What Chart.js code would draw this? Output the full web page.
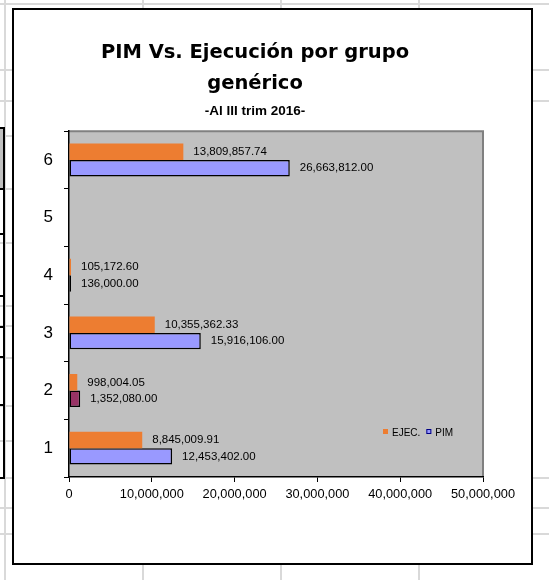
<!DOCTYPE html>
<html>
<head>
  <meta charset="utf-8">
  <title>PIM Vs. Ejecución por grupo genérico</title>
  <script src="https://cdn.jsdelivr.net/npm/chart.js"></script>
  <style>
    body { margin: 0; width: 549px; height: 580px; position: relative; overflow: hidden; background: #fff; }
    .hl { position: absolute; height: 2px; background: #d9d9d9; }
    .vl { position: absolute; top: 0; width: 2px; height: 580px; background: #d9d9d9; }
    .cell { position: absolute; left: 0; width: 5px; border-top: 2px solid #000; border-right: 2px solid #000; box-sizing: border-box; }
    #frame { position: absolute; left: 12px; top: 8px; width: 521px; height: 557px; border: 2px solid #000; box-sizing: border-box; background: #fff; }
    #pimChart { position: absolute; left: 0; top: 0; }
  </style>
</head>
<body>
  <div id="sheet"></div>
  <div id="frame"></div>
  <canvas id="pimChart" width="549" height="580"></canvas>

  <script>
    // datos del gráfico
    const categories = ['1', '2', '3', '4', '5', '6'];
    const ejecValues = [8845009.91, 998004.05, 10355362.33, 105172.60, null, 13809857.74];
    const pimValues = [12453402.00, 1352080.00, 15916106.00, 136000.00, null, 26663812.00];
    const seriesNames = ['EJEC.', 'PIM'];
    const xTicks = [0, 10000000, 20000000, 30000000, 40000000, 50000000];
    const titleLines = ['PIM Vs. Ejecución por grupo', 'genérico'];
    const subtitleText = '-Al III trim 2016-';

    // fondo de hoja de cálculo (solo decoración)
    const sheet = document.getElementById('sheet');
    [3, 69, 100, 477, 507, 533].forEach(y => {
      const d = document.createElement('div');
      d.className = 'hl'; d.style.top = y + 'px'; d.style.left = '0px'; d.style.width = '549px';
      sheet.appendChild(d);
    });
    [135, 188, 242, 305, 325, 357, 405, 440].forEach(y => {
      const d = document.createElement('div');
      d.className = 'hl'; d.style.top = y + 'px'; d.style.left = '0px'; d.style.width = '14px';
      sheet.appendChild(d);
    });
    [4, 142, 280, 418].forEach(x => {
      const d = document.createElement('div');
      d.className = 'vl'; d.style.left = x + 'px';
      sheet.appendChild(d);
    });
    const cellRows = [127, 188, 233, 295, 326, 356, 404, 477];
    for (let i = 0; i < cellRows.length - 1; i++) {
      const d = document.createElement('div');
      d.className = 'cell';
      d.style.top = cellRows[i] + 'px';
      d.style.height = (cellRows[i + 1] - cellRows[i] + 2) + 'px';
      if (i === 0) d.style.background = '#c0c0c0';
      if (i === cellRows.length - 2) d.style.borderBottom = '2px solid #000';
      sheet.appendChild(d);
    }

    const fmt2 = v => v.toLocaleString('en-US', { minimumFractionDigits: 2, maximumFractionDigits: 2 });
    const arial = '"Liberation Sans", Arial, sans-serif';

    Chart.defaults.font.family = arial;
    Chart.defaults.color = '#000';

    // área de trazado gris con borde
    const plotArea = {
      id: 'plotArea',
      beforeDraw(chart) {
        const { ctx, chartArea: a } = chart;
        ctx.save();
        ctx.fillStyle = '#c0c0c0';
        ctx.fillRect(a.left, a.top, a.right - a.left, a.bottom - a.top);
        ctx.strokeStyle = '#808080';
        ctx.lineWidth = 2;
        ctx.beginPath();
        ctx.moveTo(a.left, a.top);
        ctx.lineTo(a.right, a.top);
        ctx.lineTo(a.right, a.bottom);
        ctx.stroke();
        ctx.restore();
      }
    };

    // etiquetas de valor al final de cada barra
    const valueLabels = {
      id: 'valueLabels',
      afterDatasetsDraw(chart) {
        const ctx = chart.ctx;
        ctx.save();
        ctx.font = '11.5px ' + arial;
        ctx.fillStyle = '#000';
        ctx.textAlign = 'left';
        ctx.textBaseline = 'middle';
        chart.data.datasets.forEach((ds, i) => {
          chart.getDatasetMeta(i).data.forEach((bar, j) => {
            const v = ds.data[j];
            if (v == null) return;
            ctx.fillText(fmt2(v), bar.x + 10, bar.y);
          });
        });
        ctx.restore();
      }
    };

    // leyenda dentro del área de trazado
    const innerLegend = {
      id: 'innerLegend',
      afterDraw(chart) {
        const { ctx, chartArea: a } = chart;
        let x = a.right - 100;
        const y = a.bottom - 45;
        ctx.save();
        ctx.font = '10px ' + arial;
        ctx.textBaseline = 'middle';
        ctx.textAlign = 'left';
        chart.data.datasets.forEach(ds => {
          const bg = Array.isArray(ds.backgroundColor) ? ds.backgroundColor[0] : ds.backgroundColor;
          ctx.fillStyle = bg;
          ctx.fillRect(x, y - 3, 5, 5);
          if (ds.borderWidth) {
            ctx.strokeStyle = '#000080';
            ctx.lineWidth = 1;
            ctx.strokeRect(x + 0.5, y - 2.5, 4, 4);
          }
          ctx.fillStyle = '#000';
          ctx.fillText(ds.label, x + 9, y + 1);
          x += 9 + ctx.measureText(ds.label).width + 6;
        });
        ctx.restore();
      }
    };

    new Chart(document.getElementById('pimChart').getContext('2d'), {
      type: 'bar',
      data: {
        labels: categories,
        datasets: [
          {
            label: seriesNames[0],
            data: ejecValues,
            backgroundColor: '#ED7D31',
            borderWidth: 0,
            minBarLength: 2
          },
          {
            label: seriesNames[1],
            data: pimValues,
            backgroundColor: categories.map((c, i) => i === 1 ? '#993366' : (i === 3 ? '#000' : '#9999FF')),
            borderColor: '#000',
            borderWidth: 1.5,
            borderSkipped: false,
            minBarLength: 2
          }
        ]
      },
      options: {
        indexAxis: 'y',
        responsive: false,
        animation: false,
        devicePixelRatio: 1,
        barPercentage: 1,
        categoryPercentage: 0.57,
        layout: { padding: { left: 27, right: 66, top: 10, bottom: 73 } },
        scales: {
          x: {
            min: 0,
            max: 50000000,
            afterBuildTicks: s => { s.ticks = xTicks.map(v => ({ value: v })); },
            afterFit: s => { s.height = 30; },
            ticks: {
              autoSkip: false,
              maxRotation: 0,
              padding: 5,
              font: { size: 12.8 },
              callback: v => v.toLocaleString('en-US')
            },
            grid: { drawOnChartArea: false, drawTicks: true, tickLength: 5, color: '#000', lineWidth: 1 },
            border: { color: '#000', width: 1.5 }
          },
          y: {
            reverse: true,
            afterFit: s => { s.width = 42; },
            ticks: { padding: 11, font: { size: 17 } },
            grid: { drawOnChartArea: false, drawTicks: true, tickLength: 5, color: '#000', lineWidth: 1 },
            border: { color: '#000', width: 1.5 }
          }
        },
        plugins: {
          legend: { display: false },
          tooltip: { enabled: false },
          title: {
            display: true,
            text: titleLines,
            color: '#000',
            font: { family: '"DejaVu Sans", sans-serif', size: 19.5, weight: 'bold', lineHeight: 1.615 },
            padding: { top: 27, bottom: 0 }
          },
          subtitle: {
            display: true,
            text: subtitleText,
            color: '#000',
            font: { family: arial, size: 13.5, weight: 'bold', lineHeight: 1.2 },
            padding: { top: 3, bottom: 12 }
          }
        }
      },
      plugins: [plotArea, valueLabels, innerLegend]
    });
  </script>
</body>
</html>
